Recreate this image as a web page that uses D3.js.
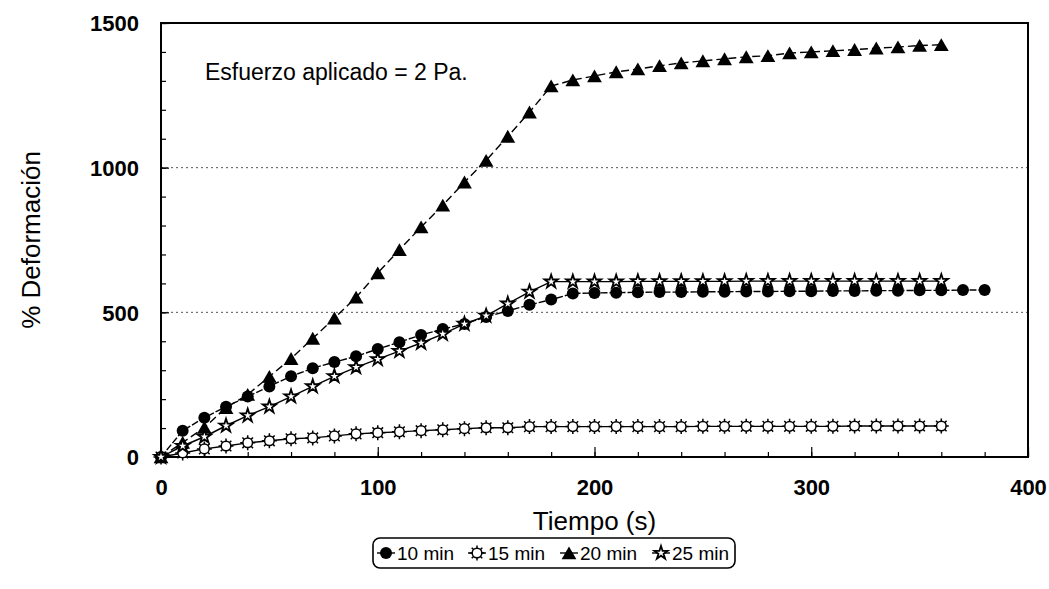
<!DOCTYPE html>
<html><head><meta charset="utf-8">
<script src="https://cdn.jsdelivr.net/npm/d3@7"></script>
<style>body{margin:0;background:#fff}svg{display:block;font-family:"Liberation Sans",Arial,sans-serif}</style>
</head><body><svg id="c" width="1049" height="589"></svg>
<script>
const time10 = [0,10,20,30,40,50,60,70,80,90,100,110,120,130,140,150,160,170,180,190,200,210,220,230,240,250,260,270,280,290,300,310,320,330,340,350,360,370,380];
const min10 = [0,91,136,174,209,244,279,307,328,348,373,397,422,442,460,484,505,526,544,565,567,568,569,570,570,571,571,572,572,573,573,574,574,575,575,576,576,577,577];
const time = [0,10,20,30,40,50,60,70,80,90,100,110,120,130,140,150,160,170,180,190,200,210,220,230,240,250,260,270,280,290,300,310,320,330,340,350,360];
const min15 = [0,14,28,38,49,56,63,66,73,80,84,87,91,94,98,101,101,105,105,105,105,105,105,105,105,106,106,106,106,106,106,106,107,107,107,107,107];
const min20 = [0,50,102,170,216,278,340,410,480,552,636,716,795,870,950,1025,1108,1192,1282,1303,1317,1331,1341,1352,1362,1369,1376,1383,1387,1396,1400,1404,1408,1413,1417,1422,1425];
const min25 = [0,38,70,108,143,174,209,244,279,310,338,366,394,425,460,488,530,571,606,606,606,606,607,607,607,607,607,608,608,608,608,608,608,608,608,608,608];
const xTicks = [0,100,200,300,400];
const yTicks = [0,500,1000,1500];
const seriesNames = ["10 min","15 min","20 min","25 min"];

const svg = d3.select("#c");
const L=161, R=1028, T=23, B=457;
const x = d3.scaleLinear().domain([0,400]).range([L,R]);
const y = d3.scaleLinear().domain([0,1500]).range([B,T]);

// grid
svg.append("g").selectAll("line").data([500,1000]).join("line")
  .attr("x1",L).attr("x2",R).attr("y1",d=>y(d)).attr("y2",d=>y(d))
  .attr("stroke","#555").attr("stroke-width",1).attr("stroke-dasharray","2,3");

// frame
svg.append("rect").attr("x",L).attr("y",T).attr("width",R-L).attr("height",B-T)
  .attr("fill","none").attr("stroke","#000").attr("stroke-width",2);

// axes ticks (inward)
const xAxisMinor = d3.axisTop(x).tickValues(d3.range(0,401,20)).tickSize(5).tickFormat("");
const xAxisMajor = d3.axisTop(x).tickValues(xTicks).tickSize(10).tickFormat("");
svg.append("g").attr("transform",`translate(0,${B})`).call(xAxisMinor).call(g=>g.select(".domain").remove());
svg.append("g").attr("transform",`translate(0,${B})`).call(xAxisMajor).call(g=>g.select(".domain").remove());
const yAxisMinor = d3.axisRight(y).tickValues(d3.range(0,1501,100)).tickSize(5).tickFormat("");
const yAxisMajor = d3.axisRight(y).tickValues(yTicks).tickSize(8).tickFormat("");
svg.append("g").attr("transform",`translate(${L},0)`).call(yAxisMinor).call(g=>g.select(".domain").remove());
svg.append("g").attr("transform",`translate(${L},0)`).call(yAxisMajor).call(g=>g.select(".domain").remove());
svg.selectAll(".tick line").attr("stroke","#000").attr("stroke-width",1.2);

// tick labels
const fmt = d3.format("d");
const xLab = d3.axisBottom(x).tickValues(xTicks).tickSize(0).tickPadding(0).tickFormat(fmt);
svg.append("g").attr("transform",`translate(0,${B})`).call(xLab)
  .call(g=>g.select(".domain").remove())
  .selectAll("text").attr("dy",null).attr("y",38).attr("font-size",22).attr("font-weight","bold").attr("fill","#000").attr("font-family","Liberation Sans, Arial, sans-serif");
const yLab = d3.axisLeft(y).tickValues(yTicks).tickSize(0).tickPadding(0).tickFormat(fmt);
svg.append("g").attr("transform",`translate(${L},0)`).call(yLab)
  .call(g=>g.select(".domain").remove())
  .selectAll("text").attr("x",-22).attr("dy","0.36em").attr("font-size",22).attr("font-weight","bold").attr("fill","#000").attr("font-family","Liberation Sans, Arial, sans-serif");

// titles
svg.append("text").attr("x",(L+R)/2).attr("y",530).attr("text-anchor","middle").attr("font-size",26).text("Tiempo (s)");
svg.append("text").attr("transform",`translate(40,${(T+B)/2}) rotate(-90)`).attr("text-anchor","middle").attr("font-size",26).text("% Deformación");
svg.append("text").attr("x",205).attr("y",80).attr("font-size",23).text("Esfuerzo aplicado = 2 Pa.");

// markers
function drawMarker(g, type){
  if(type===0){ g.append("circle").attr("r",6).attr("fill","#000"); }
  else if(type===1){
    g.append("path").attr("d",d3.range(8).map(i=>{const a=i*Math.PI/4;return `M${4.5*Math.cos(a)},${4.5*Math.sin(a)}L${7.5*Math.cos(a)},${7.5*Math.sin(a)}`}).join(""))
      .attr("stroke","#000").attr("stroke-width",1.5);
    g.append("circle").attr("r",4.8).attr("fill","#fff").attr("stroke","#000").attr("stroke-width",1.5);
  }
  else if(type===2){ g.append("path").attr("d",d3.symbol(d3.symbolTriangle,95)()).attr("transform","translate(0,2)").attr("fill","#000"); }
  else { g.append("path").attr("d",d3.symbol(d3.symbolStar,55)()).attr("fill","#fff").attr("stroke","#000").attr("stroke-width",1.8); }
}

const series = [
  {t:time10, v:min10, dash:"7,2"},
  {t:time, v:min15, dash:null},
  {t:time, v:min20, dash:"8,4"},
  {t:time, v:min25, dash:null}
];
const line = d3.line().x(d=>x(d[0])).y(d=>y(d[1]));
series.forEach((s,i)=>{
  const pts = s.t.map((t,j)=>[t,s.v[j]]);
  svg.append("path").attr("d",line(pts)).attr("fill","none").attr("stroke","#000").attr("stroke-width",1.4)
    .attr("stroke-dasharray",s.dash);
});
series.forEach((s,i)=>{
  s.t.forEach((t,j)=>{
    const g = svg.append("g").attr("transform",`translate(${x(t)},${y(s.v[j])})`);
    drawMarker(g,i);
  });
});

// legend
const lg = svg.append("g");
lg.append("rect").attr("x",373).attr("y",538).attr("width",362).attr("height",30).attr("rx",7)
  .attr("fill","#fff").attr("stroke","#000").attr("stroke-width",1.6);
const lx = [377,468,560,652];
seriesNames.forEach((n,i)=>{
  const g = lg.append("g").attr("transform",`translate(${lx[i]},553)`);
  g.append("line").attr("x1",0).attr("x2",18).attr("stroke","#000").attr("stroke-width",1.4);
  const m = g.append("g").attr("transform","translate(9,0)"); drawMarker(m,i);
  g.append("text").attr("x",20).attr("y",7).attr("font-size",19).text(n);
});
</script></body></html>
